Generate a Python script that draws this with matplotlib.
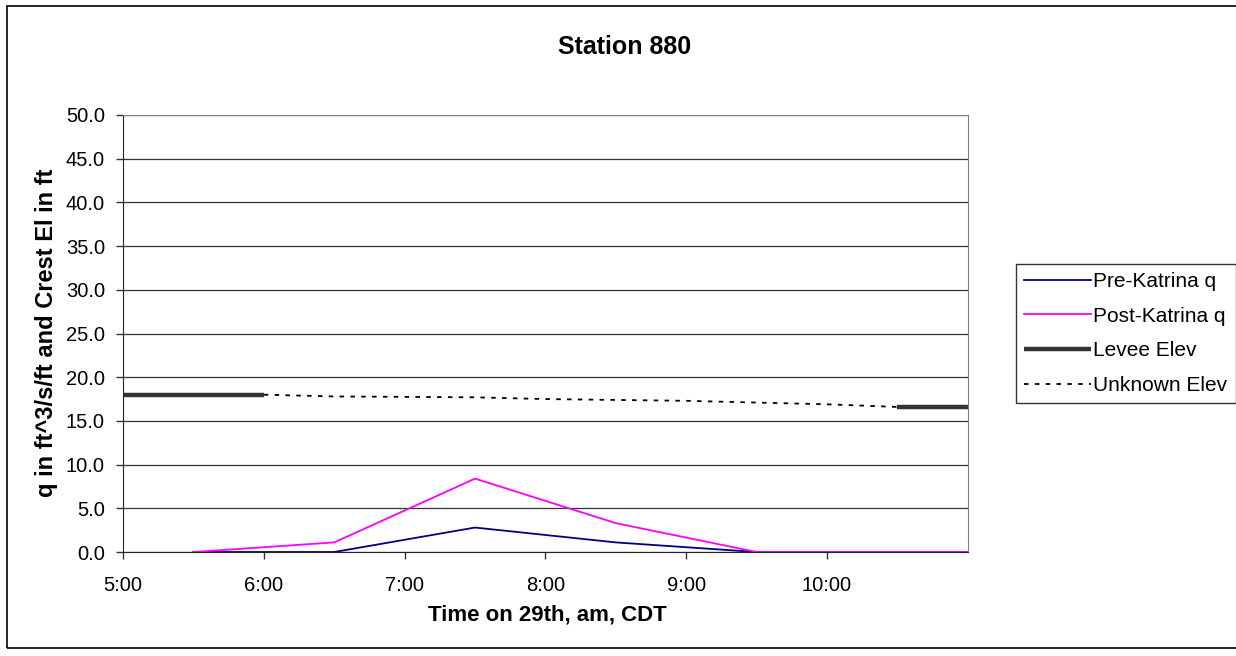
import numpy as np
import matplotlib.pyplot as plt
from matplotlib.patches import Rectangle

plt.rcParams['font.family'] = ['Liberation Sans', 'DejaVu Sans']

# time in hours (am, 29th)
q_time = [5.5, 6.5, 7.5, 8.5, 9.5, 10.5, 11.0]
pre_q = [0.0, 0.0, 2.8, 1.1, 0.0, 0.0, 0.0]
post_q = [0.0, 1.1, 8.4, 3.3, 0.0, 0.0, 0.0]

levee_time_a = [5.0, 5.5, 6.0]
levee_elev_a = [18.0, 18.0, 18.0]
levee_time_b = [10.5, 11.0]
levee_elev_b = [16.6, 16.6]

unknown_time = [6.0, 6.5, 7.0, 7.5, 8.0, 8.5, 9.0, 9.5, 10.0, 10.5]
unknown_elev = [18.0, 17.8, 17.75, 17.7, 17.5, 17.4, 17.3, 17.1, 16.9, 16.6]

hour_ticks = [5, 6, 7, 8, 9, 10]
hour_labels = ["5:00", "6:00", "7:00", "8:00", "9:00", "10:00"]

fig = plt.figure(figsize=(12.36, 6.56), dpi=100)
ax = fig.add_axes([0.0995, 0.1585, 0.6835, 0.6662])

ax.plot(q_time, pre_q, color='#000080', lw=1.3, label='Pre-Katrina q')
ax.plot(q_time, post_q, color='#FF00FF', lw=1.3, label='Post-Katrina q')
ax.plot(levee_time_a, levee_elev_a, color='#333333', lw=3.2, solid_capstyle='butt',
        label='Levee Elev')
ax.plot(levee_time_b, levee_elev_b, color='#333333', lw=3.2, solid_capstyle='butt')
ax.plot(unknown_time, unknown_elev, color='black', lw=1.3, linestyle=(0, (2.5, 3.5)),
        label='Unknown Elev')

ax.set_xlim(5, 11)
ax.set_ylim(0, 50)
ax.set_xticks(hour_ticks)
ax.set_xticklabels(hour_labels)
ax.set_yticks(np.arange(0, 50.1, 5))
ax.set_yticklabels([f"{v:.1f}" for v in np.arange(0, 50.1, 5)])
ax.tick_params(labelsize=14.5, length=5, width=1, direction='out', color='#333333')
ax.tick_params(axis='y', pad=8)
ax.tick_params(axis='x', pad=12)
ax.yaxis.grid(True, color='#333333', lw=0.9)
ax.set_axisbelow(True)

for side in ['top', 'right']:
    ax.spines[side].set_color('#808080')
for side in ['left', 'bottom']:
    ax.spines[side].set_color('#222222')

fig.text(0.505, 0.928, 'Station 880', fontsize=18, fontweight='bold',
         ha='center', va='center')
fig.text(0.443, 0.0625, 'Time on 29th, am, CDT', fontsize=16, fontweight='bold',
         ha='center', va='center')
fig.text(0.038, 0.492, 'q in ft^3/s/ft and Crest El in ft', fontsize=17,
         fontweight='bold', ha='center', va='center', rotation=90)

leg = fig.legend(loc='upper left', bbox_to_anchor=(0.822, 0.598), fontsize=15,
                 frameon=True, fancybox=False, edgecolor='black', handlelength=3.2,
                 borderpad=0.4, labelspacing=0.75, handletextpad=0.1,
                 borderaxespad=0)
leg.get_frame().set_linewidth(1.0)

fig.patches.append(Rectangle((0.0057, 0.012), 1.2, 0.979, transform=fig.transFigure,
                             fill=False, edgecolor='black', lw=1.2))

plt.savefig('out.png', dpi=100)
